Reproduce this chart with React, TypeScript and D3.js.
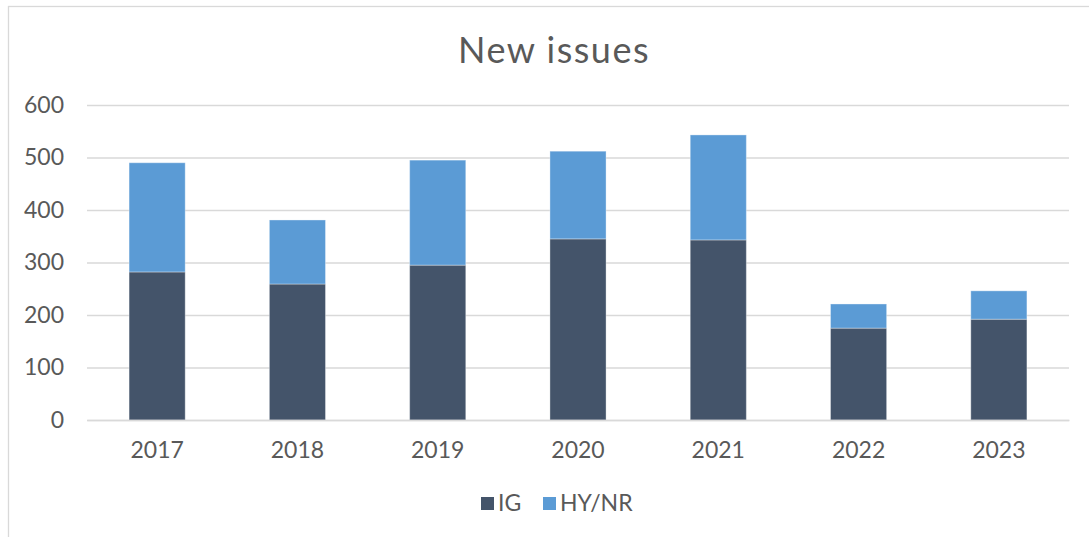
import { useEffect, useRef } from "react";
import * as d3 from "d3";

const years = ["2017", "2018", "2019", "2020", "2021", "2022", "2023"];
const igValues = [282, 259, 295, 345, 343, 175, 192];
const hyNrValues = [208, 122, 200, 167, 200, 46, 54];
const seriesNames = ["IG", "HY/NR"];
const seriesColors = ["#44546A", "#5B9BD5"];
const yTicks = [0, 100, 200, 300, 400, 500, 600];

const W = 1089;
const H = 537;
const FONT = "Lato, 'Noto Sans', sans-serif";

const App = () => {
  const svgRef = useRef<SVGSVGElement>(null);

  useEffect(() => {
    const svg = d3.select(svgRef.current);
    svg.selectAll("*").remove();

    // chart frame
    svg
      .append("rect")
      .attr("x", 8.5)
      .attr("y", 6.5)
      .attr("width", W + 20)
      .attr("height", H + 20)
      .attr("fill", "#fff")
      .attr("stroke", "#D9D9D9")
      .attr("stroke-width", 1.3);

    svg
      .append("text")
      .attr("x", 554)
      .attr("y", 63)
      .attr("text-anchor", "middle")
      .attr("font-family", FONT)
      .attr("font-size", 36)
      .attr("letter-spacing", 1.5)
      .attr("fill", "#595959")
      .text("New issues");

    const x = d3
      .scaleBand()
      .domain(years)
      .range([87, 1069])
      .paddingInner(0.6)
      .paddingOuter(0.3);
    const y = d3.scaleLinear().domain([0, 600]).range([420, 105]);

    // gridlines + y labels
    const yAxis = d3
      .axisLeft(y)
      .tickValues(yTicks)
      .tickSize(-(1069 - 87))
      .tickPadding(23);
    const gy = svg.append("g").attr("transform", "translate(87,0)").call(yAxis);
    gy.select(".domain").remove();
    gy.selectAll(".tick line").attr("stroke", "#D9D9D9").attr("stroke-width", 1.5);
    gy.selectAll(".tick text")
      .attr("font-family", FONT)
      .attr("font-size", 23)
      .attr("fill", "#595959");

    // stacked bars
    const rows = years.map((yr, i) => ({ year: yr, IG: igValues[i], "HY/NR": hyNrValues[i] }));
    const stacked = d3.stack<any>().keys(seriesNames)(rows);

    svg
      .append("g")
      .selectAll("g")
      .data(stacked)
      .join("g")
      .attr("fill", (d, i) => seriesColors[i])
      .selectAll("rect")
      .data((d) => d)
      .join("rect")
      .attr("x", (d) => x(d.data.year)!)
      .attr("y", (d) => y(d[1]))
      .attr("width", x.bandwidth())
      .attr("height", (d) => y(d[0]) - y(d[1]))
      .attr("stroke", "rgba(255,255,255,0.35)")
      .attr("stroke-width", 1);

    // x axis
    const xAxis = d3.axisBottom(x).tickSize(0).tickPadding(22);
    const gx = svg.append("g").attr("transform", "translate(0,420)").call(xAxis);
    gx.select(".domain").attr("stroke", "#D9D9D9").attr("stroke-width", 1.5);
    gx.selectAll(".tick text")
      .attr("font-family", FONT)
      .attr("font-size", 23)
      .attr("fill", "#595959");

    // legend
    const legendItems = [
      { name: seriesNames[0], color: seriesColors[0], x: 481 },
      { name: seriesNames[1], color: seriesColors[1], x: 543 },
    ];
    const lg = svg
      .append("g")
      .selectAll("g")
      .data(legendItems)
      .join("g")
      .attr("transform", (d) => `translate(${d.x},497)`);
    lg.append("rect").attr("width", 13).attr("height", 13).attr("fill", (d) => d.color);
    lg.append("text")
      .attr("x", 17)
      .attr("y", 14)
      .attr("font-family", FONT)
      .attr("font-size", 23)
      .attr("fill", "#595959")
      .text((d) => d.name);
  }, []);

  return (
    <svg
      ref={svgRef}
      width={W}
      height={H}
      style={{ position: "absolute", left: 0, top: 0, background: "#fff" }}
    ></svg>
  );
};

export default App;
